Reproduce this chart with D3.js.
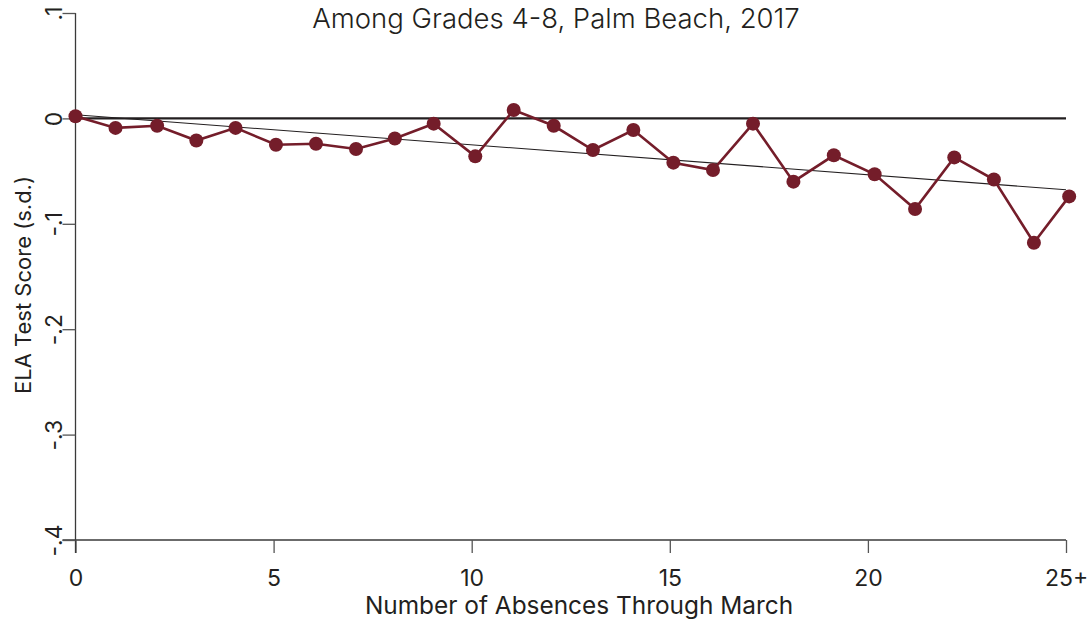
<!DOCTYPE html>
<html>
<head>
<meta charset="utf-8">
<script src="https://cdn.jsdelivr.net/npm/d3@7"></script>
<style>
  html, body { margin: 0; padding: 0; background: #fff; }
  svg { display: block; }
  text { font-family: Inter, "Noto Sans", sans-serif; fill: #231f20; }
</style>
</head>
<body>
<svg id="chart" width="1090" height="621"></svg>
<script>
// Mean absences within each bin (0 … 25+)
const absences = [0, 1.01, 2.06, 3.05, 4.04, 5.06, 6.07, 7.08, 8.06, 9.04, 10.09, 11.06, 12.07,
  13.06, 14.08, 15.09, 16.09, 17.10, 18.12, 19.14, 20.17, 21.19, 22.18, 23.18, 24.19, 25.08];
// Mean ELA score (s.d.) in each bin
const elaScore = [0.002, -0.009, -0.007, -0.021, -0.009, -0.025, -0.024, -0.029, -0.019, -0.005,
  -0.036, 0.008, -0.007, -0.030, -0.011, -0.042, -0.049, -0.005, -0.060, -0.035, -0.053,
  -0.086, -0.037, -0.058, -0.118, -0.074];
// Linear fit, value at 0 and at 25 absences
const fitX = [0, 25];
const fitY = [0.0034, -0.0677];

const xTicks = [0, 5, 10, 15, 20, 25];
const xTickLabels = ["0", "5", "10", "15", "20", "25+"];
const yTicks = [0.1, 0, -0.1, -0.2, -0.3, -0.4];
const yTickLabels = [".1", "0", "-.1", "-.2", "-.3", "-.4"];

const svg = d3.select("#chart");
const x = d3.scaleLinear().domain([0, 25]).range([75.5, 1066]);
const y = d3.scaleLinear().domain([-0.4, 0.1]).range([540, 13]);

const axisColor = "#3a3a3a";
const tickLen = 13;

// X axis
const xAxis = svg.append("g").attr("transform", `translate(0,${y(-0.4)})`)
  .call(d3.axisBottom(x).tickValues(xTicks).tickSize(tickLen).tickSizeOuter(0)
    .tickFormat((d, i) => xTickLabels[i]));
xAxis.select(".domain").attr("stroke", axisColor).attr("stroke-width", 1.3)
  .attr("d", `M${x(0) - tickLen},0H${x(25)}`);
xAxis.selectAll(".tick line").attr("stroke", "#555").attr("stroke-width", 1.3);
xAxis.selectAll(".tick text").attr("font-size", 23).attr("y", 0).attr("dy", 0)
  .attr("transform", "translate(0,46)").style("fill", "#231f20")
  .attr("font-family", "Inter, sans-serif");

// Y axis
const yAxis = svg.append("g").attr("transform", `translate(${x(0)},0)`)
  .call(d3.axisLeft(y).tickValues(yTicks).tickSize(tickLen).tickSizeOuter(0)
    .tickFormat((d, i) => yTickLabels[i]));
yAxis.select(".domain").attr("stroke", axisColor).attr("stroke-width", 1.3)
  .attr("d", `M0,${y(0.1)}V${y(-0.4) + tickLen}`);
yAxis.selectAll(".tick line").attr("stroke", "#555").attr("stroke-width", 1.3);
yAxis.selectAll(".tick text")
  .attr("x", 0).attr("dy", 0).attr("text-anchor", "middle")
  .attr("transform", "translate(-14,0) rotate(-90)")
  .attr("font-size", 23).style("fill", "#231f20")
  .attr("font-family", "Inter, sans-serif");

// Reference line at zero
svg.append("line")
  .attr("x1", x(0)).attr("x2", x(25))
  .attr("y1", y(0)).attr("y2", y(0))
  .attr("stroke", "#231f20").attr("stroke-width", 2.2);

// Linear fit
svg.append("line")
  .attr("x1", x(fitX[0])).attr("x2", x(fitX[1]))
  .attr("y1", y(fitY[0])).attr("y2", y(fitY[1]))
  .attr("stroke", "#231f20").attr("stroke-width", 1.1);

// Binned means
const pts = absences.map((a, i) => [a, elaScore[i]]);
const markColor = "#741d2a";
svg.append("path")
  .datum(pts)
  .attr("fill", "none").attr("stroke", markColor).attr("stroke-width", 2.6)
  .attr("d", d3.line().x(d => x(d[0])).y(d => y(d[1])));
svg.append("g").selectAll("circle").data(pts).join("circle")
  .attr("cx", d => x(d[0])).attr("cy", d => y(d[1])).attr("r", 7)
  .attr("fill", markColor);

// Titles
svg.append("text").attr("x", 556).attr("y", 28).attr("text-anchor", "middle")
  .attr("font-size", 27.5).attr("font-weight", 300)
  .text("Among Grades 4-8, Palm Beach, 2017");
svg.append("text").attr("x", 579).attr("y", 614).attr("text-anchor", "middle")
  .attr("font-size", 24.4)
  .text("Number of Absences Through March");
svg.append("text").attr("transform", "translate(31,285) rotate(-90)").attr("text-anchor", "middle")
  .attr("font-size", 22)
  .text("ELA Test Score (s.d.)");
</script>
</body>
</html>
